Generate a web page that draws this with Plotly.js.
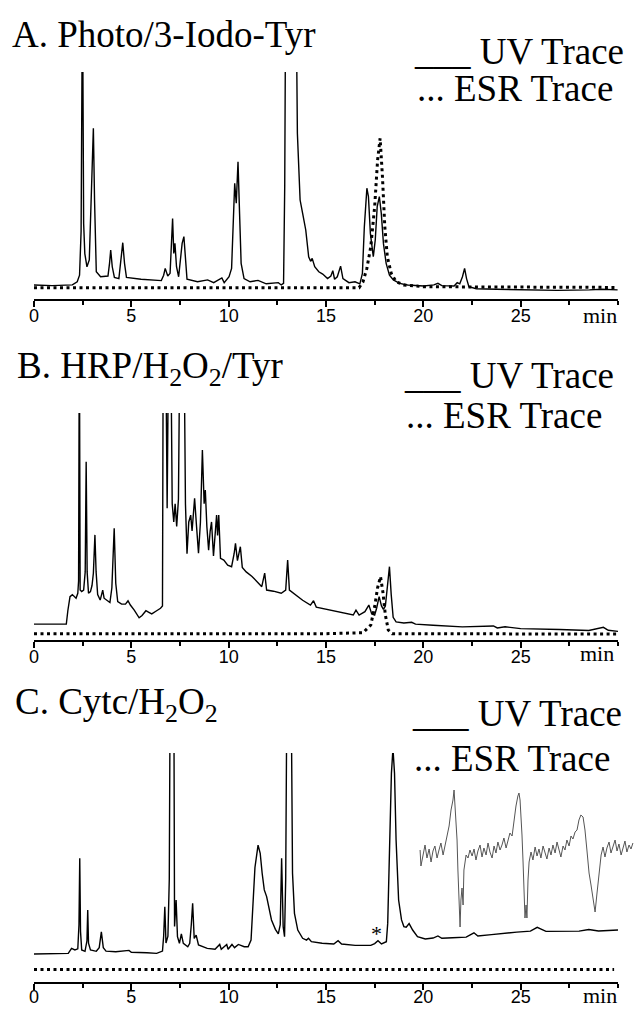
<!DOCTYPE html>
<html><head><meta charset="utf-8">
<script src="https://cdn.plot.ly/plotly-3.0.1.min.js"></script>
<style>html,body{margin:0;padding:0;background:#fff}#chart{width:634px;height:1009px}</style>
</head><body><div id="chart"></div>
<script>
// ---------- data (time in min, absorbance / signal in relative units) ----------
const tickVals = [0, 5, 10, 15, 20, 25];
const tickText = ['0', '5', '10', '15', '20', '25'];
const minorVals = [2.5, 7.5, 12.5, 17.5, 22.5, 27.5, 30];

const panelTitles = ['A. Photo/3-Iodo-Tyr', 'B. HRP/H<sub>2</sub>O<sub>2</sub>/Tyr', 'C. Cytc/H<sub>2</sub>O<sub>2</sub>'];
const legendTexts = ['___ UV Trace', '... ESR Trace'];

const uvA = [[0,6.2],[0.93,5.9],[1.97,6.2],[2.22,7.6],[2.34,10.5],[2.42,30],[2.49,140],[2.55,33.3],[2.61,20],[2.72,14.2],[2.84,17.2],[2.95,43.6],[3.05,75.2],[3.11,43.6],[3.2,12.0],[3.42,9.8],[3.8,10.1],[3.88,15.7],[3.94,21.6],[4.02,14.2],[4.13,9.5],[4.36,9.0],[4.46,17.2],[4.56,24.8],[4.65,15.7],[4.75,9.5],[5.5,8.7],[6.54,8.1],[6.66,10.5],[6.74,13.5],[6.87,10.1],[6.99,11.3],[7.12,35.5],[7.18,20.1],[7.24,24.5],[7.32,14.2],[7.43,9.8],[7.55,20.1],[7.61,24.5],[7.7,27.5],[7.78,17.2],[7.86,8.7],[8.4,7.6],[8.92,8.4],[9.23,7.2],[9.65,9.3],[9.77,7.2],[10.02,9.8],[10.15,13.5],[10.25,36.3],[10.31,51.0],[10.39,42.2],[10.48,60.5],[10.56,37.7],[10.64,15.7],[10.79,9.0],[11.1,7.6],[11.51,8.2],[11.93,6.7],[12.55,7.2],[12.7,6.2],[12.82,6.9],[12.88,50],[12.93,140],[13.46,140],[13.53,73],[13.59,61.2],[13.67,43.6],[13.8,37.7],[13.96,30.4],[14.11,18.6],[14.21,16.6],[14.29,17.9],[14.42,14.2],[14.63,12.0],[14.83,11.0],[15.08,9.0],[15.25,10.1],[15.35,12.5],[15.44,8.7],[15.58,9.8],[15.75,14.5],[15.87,9.0],[16.18,7.2],[16.49,7.6],[16.74,6.7],[16.87,11.3],[16.97,31.9],[17.1,48.8],[17.18,45.1],[17.28,28.9],[17.43,18.6],[17.53,26],[17.63,40.7],[17.74,45.1],[17.84,37.7],[17.95,24.5],[18.09,15.7],[18.26,10.5],[18.46,8.4],[18.78,6.9],[19.19,6.2],[20.02,5.7],[20.54,6.2],[20.75,6.9],[20.95,5.9],[21.58,5.7],[21.74,7.2],[21.87,6.7],[22.01,9.8],[22.12,13.5],[22.22,9.0],[22.34,5.4],[22.72,4.5],[23.76,4.3],[25.21,4.0],[26.87,3.8],[28.53,4.0],[29.15,4.3],[29.98,4.0]];
const esrA = [[0,5.0],[5,5.0],[10,5.0],[15,5.0],[16.7,5.0],[16.9,7.6],[17.1,13.5],[17.3,23.0],[17.5,40.7],[17.65,61.2],[17.78,70.8],[17.9,53.9],[18.02,31.9],[18.15,18.6],[18.35,11.3],[18.6,7.6],[19.0,6.2],[20,5.4],[25,5.1],[29.85,5.1]];

const uvB = [[0,7.0],[1.66,7.0],[1.74,13.0],[1.85,19.1],[1.97,20.0],[2.06,19.0],[2.16,18.4],[2.25,20.6],[2.29,26],[2.33,140],[2.37,22],[2.45,21.3],[2.55,22.0],[2.63,30],[2.68,78.5],[2.73,30],[2.8,20.6],[2.9,21.3],[2.98,24],[3.05,29.4],[3.13,46.3],[3.19,30],[3.27,20],[3.4,17.6],[3.53,22.0],[3.6,18.4],[3.75,17.6],[3.9,16.5],[4.0,23],[4.12,49.2],[4.2,25],[4.3,16.9],[4.5,15.8],[4.7,15.8],[4.83,17.3],[4.95,15.4],[5.15,13.2],[5.4,9.8],[5.55,10.8],[5.75,12.9],[5.9,12.2],[6.05,11.5],[6.3,12.9],[6.5,14.0],[6.6,15],[6.64,140],[6.76,140],[6.84,58],[6.92,140],[7.02,140],[7.1,60],[7.18,52],[7.25,60],[7.33,50],[7.42,62],[7.5,140],[7.7,140],[7.78,60],[7.86,38],[7.95,52],[8.05,55],[8.12,48],[8.25,62.4],[8.35,50],[8.45,38.2],[8.55,52],[8.65,83.7],[8.74,60],[8.8,66.1],[8.88,50],[8.97,39.6],[9.05,48],[9.12,52],[9.22,37],[9.32,50],[9.38,55],[9.43,46],[9.49,55.1],[9.58,36],[9.75,35.2],[9.95,33],[10.15,32.3],[10.28,38],[10.35,42.6],[10.45,35],[10.6,41.1],[10.7,32],[10.9,30],[11.2,28],[11.5,25],[11.7,23.5],[11.85,29.5],[11.95,22],[12.3,21.5],[12.7,20.6],[12.93,22],[13.03,35.2],[13.12,22],[13.4,20],[13.8,17.5],[14.2,15.4],[14.36,17.3],[14.5,14.5],[15.0,13.5],[15.5,12.5],[16.0,11.5],[16.4,11],[16.54,13.2],[16.7,11],[17.0,12.5],[17.2,15.4],[17.35,11.5],[17.5,11],[17.6,14],[17.73,19.1],[17.85,15],[17.95,13.5],[18.05,15],[18.15,25],[18.26,32.3],[18.35,20],[18.45,10],[18.6,8],[19.0,7.5],[19.4,7.8],[19.6,7.0],[20.5,6.5],[22,5.8],[23.6,6.2],[23.8,5.3],[24.2,5.8],[25,5.0],[27,4.6],[28.5,4.2],[29.25,5.6],[29.5,4.3],[30,3.8]];
const esrB = [[0,2.8],[5,2.8],[10,2.8],[15,2.8],[16.9,3.2],[17.3,6.6],[17.5,14.7],[17.65,23],[17.8,27.9],[17.92,21.3],[18.05,11],[18.2,4.4],[18.4,2.8],[20,2.8],[25,2.8],[30,2.6]];

const uvC = [[0,12.2],[1.5,12.3],[1.76,12.5],[1.93,14.7],[2.1,14.0],[2.25,14.5],[2.31,25],[2.35,54.0],[2.39,22],[2.45,14.0],[2.62,13.4],[2.72,18],[2.76,31.4],[2.8,17],[2.9,14.0],[3.2,13.4],[3.35,15],[3.46,21.9],[3.56,15],[3.7,13.5],[4.2,13.2],[4.88,13.8],[5.0,13.0],[5.8,12.8],[6.3,12.5],[6.6,13.5],[6.66,20],[6.72,32.9],[6.78,17],[6.88,20],[6.95,45],[7.0,140],[7.18,140],[7.22,24.2],[7.3,35.8],[7.37,19.8],[7.47,16.9],[7.57,21.0],[7.67,16.9],[7.9,15.4],[8.0,16.9],[8.08,25],[8.15,34.4],[8.23,19],[8.33,20.5],[8.45,16.2],[8.9,14.7],[9.3,14.3],[9.54,16.4],[9.62,14.3],[9.9,16.4],[9.97,14.3],[10.17,16.4],[10.3,15.0],[10.5,16.4],[10.8,15.4],[11.0,15.4],[11.15,18.3],[11.25,35],[11.35,50],[11.51,59.8],[11.62,56.2],[11.72,47.5],[11.83,40.2],[11.95,37.3],[12.05,33],[12.2,27.1],[12.4,23],[12.55,21],[12.65,25],[12.72,54.0],[12.8,24.2],[12.87,19.8],[12.93,45],[13.0,140],[13.2,140],[13.28,47.5],[13.38,30.0],[13.55,22.7],[13.8,19.1],[14.0,18.3],[14.1,19.1],[14.25,17.6],[14.8,16.9],[15.4,16.6],[15.62,18.0],[15.8,16.6],[16.5,16.0],[17.3,16.0],[17.5,16.8],[17.67,18.0],[17.85,16.6],[18.1,17.6],[18.17,25.6],[18.27,54.7],[18.36,91.1],[18.44,102],[18.52,91.1],[18.6,62.0],[18.73,35.8],[18.88,27.1],[19.0,24.2],[19.12,23.9],[19.27,25.5],[19.45,22.7],[19.7,19.8],[20.1,18.8],[20.5,19.2],[20.75,20.1],[20.95,19.1],[21.5,19.3],[22.2,19.6],[22.6,21.5],[22.8,20.1],[23.5,20.7],[24.2,21.4],[24.8,21.8],[25.5,22.2],[25.85,23.9],[26.3,22.1],[27.0,22.1],[28.0,22.2],[28.5,22.9],[29.0,22.3],[30,22.7]];
const esrC = [[0,5.5],[10,5.6],[20,5.5],[29.8,5.5]];

// inset ESR spectrum (field in arbitrary units 0-100, derivative signal)
const insetSpectrum = [[0.5,7],[0.9,-9],[1.9,2],[2.8,12],[3.7,-1],[4.7,8],[5.6,-5],[6.5,6],[7.4,11],[8.4,-1],[9.3,7],[10.2,14],[11.2,2],[12.1,11],[13.0,22],[14.0,31],[14.9,47],[15.8,57],[16.3,67],[16.7,55],[17.2,39],[17.7,17],[18.1,-13],[18.6,-53],[19.1,-70],[19.5,-43],[20.0,-31],[20.5,-48],[20.9,-13],[21.9,2],[22.8,-1],[23.7,7],[24.7,1],[25.6,8],[26.5,-3],[27.4,6],[28.4,12],[29.3,0],[30.2,9],[31.2,2],[32.1,14],[33.0,5],[34.0,-1],[34.9,11],[35.8,4],[36.7,15],[37.7,7],[38.6,12],[39.5,19],[40.5,9],[41.4,17],[42.3,24],[43.3,21],[44.2,37],[45.1,51],[46.0,61],[46.5,64],[47.0,57],[47.4,45],[47.9,22],[48.4,-5],[48.8,-43],[49.3,-61],[49.8,-48],[50.2,-61],[50.7,-23],[51.2,-5],[52.1,5],[53.0,-3],[54.0,10],[54.9,1],[55.8,8],[56.7,-1],[57.7,11],[58.6,5],[59.5,-2],[60.5,9],[61.4,2],[62.3,12],[63.3,4],[64.2,15],[65.1,7],[66.0,0],[67.0,11],[67.9,7],[68.8,17],[69.8,11],[70.7,21],[71.6,18],[72.6,25],[73.5,27],[74.4,37],[75.3,42],[76.3,40],[77.2,27],[78.1,7],[79.1,-16],[80.0,-28],[80.9,-40],[81.9,-55],[82.8,-36],[83.7,-16],[84.7,2],[85.6,10],[86.5,0],[87.4,9],[88.4,15],[89.3,4],[90.2,11],[91.2,17],[92.1,6],[93.0,13],[94.0,2],[94.9,10],[95.8,16],[96.7,5],[97.7,12],[98.6,8],[99.5,14]];

// ---------- layout helpers ----------
const W = 634, H = 1009;
const fx = p => p / W;
const fy = p => 1 - p / H;
const SERIF = 'Liberation Serif, Times New Roman, serif';
const SANS = 'Liberation Sans, Arial, Helvetica, sans-serif';

function xAxis(anchor, standoff) {
  return {
    domain: [fx(34), fx(618)], anchor: anchor, range: [0, 30],
    tickmode: 'array', tickvals: tickVals, ticktext: tickText,
    ticks: 'outside', ticklen: 6, tickwidth: 2, tickcolor: '#000',
    ticklabelstandoff: standoff,
    showline: true, linewidth: 2, linecolor: '#000',
    showgrid: false, zeroline: false, fixedrange: true,
    tickfont: {family: SANS, size: 18, color: '#000'},
    minor: {tickmode: 'array', tickvals: minorVals, ticks: 'outside', ticklen: 4, tickwidth: 2, tickcolor: '#000', showgrid: false}
  };
}
function yAxis(bottomPx, topPx, range) {
  return {domain: [fy(bottomPx), fy(topPx)], range: range, visible: false, fixedrange: true};
}

function lineTrace(pairs, xa, ya, dotted) {
  return {
    x: pairs.map(p => p[0]), y: pairs.map(p => p[1]), xaxis: xa, yaxis: ya,
    type: 'scatter', mode: 'lines', hoverinfo: 'skip',
    line: dotted ? {color: '#000', width: 3, dash: '3px,3.5px'} : {color: '#000', width: 1.4}
  };
}

const data = [
  lineTrace(esrA, 'x', 'y', true), lineTrace(uvA, 'x', 'y', false),
  lineTrace(esrB, 'x2', 'y2', true), lineTrace(uvB, 'x2', 'y2', false),
  lineTrace(esrC, 'x3', 'y3', true), lineTrace(uvC, 'x3', 'y3', false),
  {x: insetSpectrum.map(p => p[0]), y: insetSpectrum.map(p => p[1]), xaxis: 'x4', yaxis: 'y4',
   type: 'scatter', mode: 'lines', hoverinfo: 'skip', line: {color: '#555', width: 1}}
];

function textAnn(text, xPx, yPx, size, anchor) {
  return {text: text, xref: 'paper', yref: 'paper', x: fx(xPx), y: fy(yPx),
          xanchor: anchor || 'left', yanchor: 'middle', showarrow: false,
          font: {family: SERIF, size: size, color: '#000'}};
}

const annotations = [
  textAnn(panelTitles[0], 10, 35, 37),
  textAnn(legendTexts[0], 412, 52, 37),
  textAnn(legendTexts[1], 415, 88, 37),
  textAnn('min', 600, 315, 22, 'center'),

  textAnn(panelTitles[1], 15, 368, 37),
  textAnn(legendTexts[0], 402, 375, 37),
  textAnn(legendTexts[1], 404, 415, 37),
  textAnn('min', 597, 653, 22, 'center'),

  textAnn(panelTitles[2], 13, 704, 37),
  textAnn(legendTexts[0], 410, 713, 37),
  textAnn(legendTexts[1], 412, 758, 37),
  textAnn('min', 600, 995, 22, 'center'),
  {text: '*', xref: 'x3', yref: 'y3', x: 17.6, y: 21, showarrow: false, xanchor: 'center', yanchor: 'middle',
   font: {family: SERIF, size: 22, color: '#000'}}
];

const layout = {
  width: W, height: H, margin: {l: 0, r: 0, t: 0, b: 0},
  paper_bgcolor: '#fff', plot_bgcolor: 'rgba(0,0,0,0)', showlegend: false,
  xaxis: xAxis('y', -7), yaxis: yAxis(299, 72, [0, 100]),
  xaxis2: xAxis('y2', -7), yaxis2: yAxis(640, 413, [0, 100]),
  xaxis3: xAxis('y3', -9), yaxis3: yAxis(982, 753, [0, 100]),
  xaxis4: {domain: [fx(419), 1], anchor: 'y4', range: [0, 100], visible: false, fixedrange: true},
  yaxis4: {domain: [fy(930), fy(785)], anchor: 'x4', range: [-73, 72], visible: false, fixedrange: true},
  annotations: annotations
};

Plotly.newPlot('chart', data, layout, {displayModeBar: false, staticPlot: true});
</script></body></html>
